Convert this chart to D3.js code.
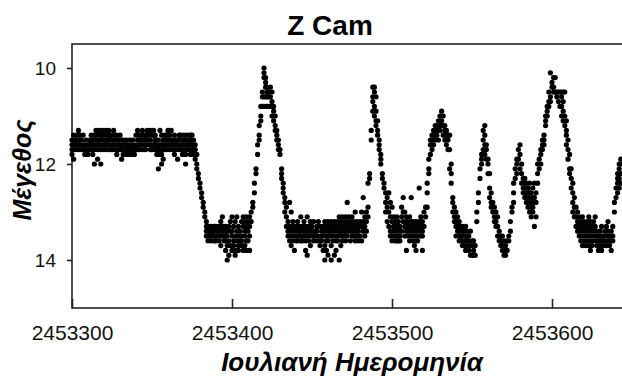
<!DOCTYPE html>
<html>
<head>
<meta charset="utf-8">
<script src="https://cdn.jsdelivr.net/npm/d3@7"></script>
<style>
  body { margin: 0; background: #fff; }
  svg { display: block; font-family: "Liberation Sans", Arial, sans-serif; }
</style>
</head>
<body>
<svg width="622" height="376"></svg>
<script>
// Z Cam light curve, visual estimates. Each row: [day after JD 2453300, mag, mag, ...]
const jdBase = 2453300;
const xTicks = [2453300, 2453400, 2453500, 2453600];
const yTicks = [10, 12, 14];

const standstill = [
  [0,11.5,11.6,11.7,11.8],[1,11.4,11.6,11.9],[2,11.5,11.6,11.7],[3,11.4,11.5,11.6],
  [4,11.3,11.6,11.7],[5,11.4,11.5,11.6],[6,11.5,11.7],[7,11.4,11.6,11.7],
  [8,11.6,11.7,11.8],[9,11.5,11.7],[10,11.6,11.8],[11,11.5,11.6,11.7],
  [12,11.4,11.5,11.6,11.7],[13,11.5,11.6,11.8],[14,11.4,11.5,11.7,12.0],[15,11.3,11.5,11.6],
  [16,11.4,11.6,11.7,11.9],[17,11.3,11.5,11.6],[18,11.4,11.5,11.7,12.0],[19,11.3,11.4,11.6],
  [20,11.4,11.5,11.6,11.7],[21,11.3,11.5,11.6],[22,11.4,11.6,11.7],[23,11.3,11.4,11.5,11.6],
  [24,11.4,11.5,11.7],[25,11.4,11.6,11.7],[26,11.3,11.5,11.6],[27,11.4,11.5,11.7],
  [28,11.4,11.6,11.8],[29,11.5,11.6,11.7],[30,11.4,11.6,11.7],[31,11.5,11.7,11.9],
  [32,11.5,11.6,11.8],[33,11.6,11.7],[34,11.5,11.6,11.7,11.8],[35,11.6,11.7,11.8],
  [36,11.5,11.7],[37,11.6,11.7,11.8],[38,11.5,11.6,11.7],[39,11.7,11.8],
  [40,11.4,11.6,11.7],[41,11.3,11.5,11.7],[42,11.4,11.6,11.7],[43,11.4,11.5,11.6],
  [44,11.3,11.5,11.7],[45,11.4,11.5,11.6],[46,11.4,11.6,11.7],[47,11.3,11.4,11.5],
  [48,11.4,11.5,11.6],[49,11.3,11.5,11.7],[50,11.4,11.6,11.7],[51,11.3,11.4,11.6],
  [52,11.4,11.5,11.6,11.7],[53,11.5,11.6,11.7,11.8],[54,11.5,11.7,11.8,12.1],[55,11.3,11.6,11.7],
  [56,11.4,11.6,11.8,12.0],[57,11.5,11.6,11.7,11.9],[58,11.4,11.5,11.7],[59,11.4,11.6,11.7],
  [60,11.3,11.5,11.6],[61,11.4,11.5,11.7],[62,11.3,11.5,11.6],[63,11.5,11.6,11.7],
  [64,11.4,11.6,11.8],[65,11.5,11.6,11.7],[66,11.5,11.6,11.9],[67,11.4,11.5,11.7],
  [68,11.4,11.6,11.7],[69,11.5,11.6,11.8],[70,11.4,11.5,11.7],[71,11.5,11.6,11.8,12.0],
  [72,11.4,11.6,11.7],[73,11.5,11.6,11.7],[74,11.4,11.5,11.6,11.8],[75,11.4,11.6,11.7],
  [76,11.5,11.6,11.7,11.8]
];

const decline1 = [
  [77,11.6,11.7,11.8,11.9],[78,11.8,12.0,12.1],[79,12.2,12.3],[80,12.4,12.5],
  [81,12.6,12.7],[82,12.8,12.9],[83,13.0,13.1],[84,13.2,13.3,13.4,13.5]
];

const minimum1 = [
  [85,13.3,13.4,13.5,13.6],[86,13.3,13.4,13.5],[87,13.3,13.4,13.5,13.6],[88,13.4,13.5],
  [89,13.3,13.4,13.6],[90,13.3,13.5,13.6],[91,13.4,13.5],[92,13.3,13.4,13.6],
  [93,13.2,13.5,13.7],[94,13.1,13.3,13.4,13.5],[95,13.3,13.5,13.6],[96,13.3,13.4,13.6,13.8],
  [97,13.4,13.5,13.7,14.0],[98,13.3,13.6,13.9],[99,13.2,13.4,13.7],[100,13.1,13.4,13.5,13.8],
  [101,13.3,13.6,13.7],[102,13.2,13.5,13.8,13.9],[103,13.1,13.4,13.6],[104,13.3,13.5,13.7,13.8],
  [105,13.4,13.6],[106,13.2,13.5,13.6,13.7],[107,13.1,13.3,13.8],[108,13.2,13.4,13.5,13.7],
  [109,13.1,13.3,13.6,13.8],[110,13.2,13.4,13.6],[111,13.1,13.3,13.5,13.8]
];

const outburst1 = [
  [112,13.0,13.2],[113,12.8,12.9],[114,12.4,12.6],[115,12.1,12.2],[116,11.6,11.8],
  [117,11.2,11.4,11.5],[118,10.8,11.0,11.1],[119,10.5,10.6,10.8],[120,10.0,10.1,10.2,10.6,10.8],
  [121,10.2,10.3,10.4,10.6,10.8],[122,10.4,10.5,10.6,10.8],[123,10.5,10.6,10.8],[124,10.4,10.6,10.8],
  [125,10.5,10.7,10.8,11.0],[126,10.8,10.9,11.1],[127,11.0,11.2,11.3],[128,11.3,11.4,11.5],
  [129,11.5,11.6,11.7],[130,11.7,11.8],[131,12.1,12.2,12.3],[132,12.4,12.5,12.6],
  [133,12.7,12.8,13.0],[134,12.9,13.1,13.3]
];

const minimum2 = [
  [135,13.2,13.4,13.5],[136,12.8,13.3,13.6],[137,13.0,13.4,13.5,13.7],[138,13.2,13.3,13.6],
  [139,13.4,13.5,13.8],[140,13.3,13.4,13.6],[141,13.2,13.3,13.5,13.6],[142,13.3,13.4,13.5],
  [143,13.1,13.4,13.6],[144,13.3,13.5,13.6],[145,13.2,13.4,13.5],[146,13.3,13.4,13.6,13.8],
  [147,13.1,13.4,13.5,13.9],[148,13.3,13.5,13.6],[149,13.2,13.4,13.7],[150,13.3,13.4,13.5],
  [151,13.2,13.5,13.6],[152,13.4,13.5],[153,13.3,13.4,13.6],[154,13.2,13.5],
  [155,13.3,13.6,13.7],[156,13.4,13.5,13.6],[157,13.3,13.5,13.8],[158,13.2,13.4,13.7,14.0],
  [159,13.3,13.5,13.6,13.8],[160,13.2,13.4,13.6,13.9],[161,13.3,13.4,13.5],[162,13.2,13.5,13.7,14.0],
  [163,13.3,13.4,13.6],[164,13.2,13.3,13.5,13.9],[165,13.3,13.4,13.6,13.8],[166,13.2,13.5,13.6],
  [167,13.1,13.3,13.4,14.0],[168,13.2,13.4,13.5,13.7],[169,13.1,13.3,13.6],[170,13.2,13.4,13.5],
  [171,13.1,13.3,13.4,13.6],[172,12.8,13.2,13.5],[173,13.1,13.3,13.4],[174,13.2,13.4,13.6],
  [175,13.1,13.3,13.5],[176,13.2,13.4,13.5],[177,13.0,13.3,13.6],[178,13.2,13.4,13.5],
  [179,13.3,13.4,13.6],[180,13.2,13.5],[181,13.0,13.3,13.6],[182,12.7,13.2,13.4],
  [183,13.1,13.3,13.5],[184,13.0,13.2,13.4]
];

const outburst2 = [
  [185,12.4,12.9,13.1],[186,12.2,12.3],[187,11.3,11.5],[188,10.4,10.6,10.7,10.9],
  [189,10.4,10.5,10.8,11.0],[190,10.6,10.9,11.1,11.2],[191,11.1,11.3,11.4],[192,11.5,11.6,11.7],
  [193,11.8,11.9,12.0],[194,12.2,12.3],[195,12.4,12.5],[196,12.6,12.8,13.0]
];

const minimum3 = [
  [197,12.7,12.9,13.2],[198,12.6,13.0,13.3],[199,12.8,13.1,13.4,13.5],[200,12.9,13.2,13.4,13.6],
  [201,13.1,13.3,13.5],[202,13.2,13.4,13.6],[203,13.1,13.3,13.5,13.6],[204,13.2,13.4,13.6],
  [205,13.3,13.5,13.6],[206,12.9,13.1,13.4],[207,12.7,13.0,13.2],[208,13.0,13.3,13.5],
  [209,13.1,13.2,13.4,13.8],[210,13.2,13.3,13.5],[211,13.1,13.4,13.6],[212,12.7,13.2,13.3,13.5],
  [213,13.2,13.4,13.6],[214,13.3,13.5,13.7],[215,13.2,13.4,13.6,13.8],[216,13.3,13.5,13.6],
  [217,12.5,13.2,13.4],[218,13.1,13.3,13.5],[219,13.2,13.4,13.5,13.8],[220,13.0,13.3],
  [221,12.9,13.1]
];

const outburst3 = [
  [222,12.4,12.6,12.9],[223,11.9,12.1,12.2],[224,11.5,11.6,11.8],[225,11.4,11.5,11.6,11.7],
  [226,11.3,11.4,11.6],[227,11.2,11.4,11.5],[228,11.2,11.3,11.4],[229,11.1,11.3,11.5],
  [230,11.0,11.2,11.3],[231,10.9,11.1,11.2],[232,11.0,11.2,11.4],[233,11.2,11.3,11.5],
  [234,11.3,11.4,11.6],[235,11.4,11.5,11.7],[236,11.4,11.7,12.1],[237,12.0,12.2,12.4]
];

const minimum4 = [
  [238,12.7,12.8,13.0],[239,12.9,13.1,13.2],[240,13.0,13.2,13.3,13.5],[241,13.1,13.3,13.4],
  [242,13.2,13.4,13.5,13.6],[243,13.3,13.5,13.6],[244,13.3,13.4,13.6,13.7],[245,13.4,13.5,13.7],
  [246,13.3,13.5,13.6,13.8],[247,13.4,13.6,13.7],[248,13.5,13.6,13.8],[249,13.4,13.7,13.9],
  [250,13.6,13.7,13.9],[251,13.6,13.8,13.9],[252,13.7,13.9]
];

const outburst4 = [
  [253,13.0,13.2],[254,12.6,12.8],[255,12.1,12.3],[256,11.8,11.9,12.0],[257,11.3,11.5,11.7],
  [258,11.2,11.4,11.6,11.8],[259,11.6,11.7,11.9],[260,11.9,12.0,12.2],[261,12.2,12.5,12.7],
  [262,12.6,12.8,12.9],[263,12.8,13.0],[264,12.9,13.1,13.2],[265,13.0,13.2,13.3],
  [266,13.1,13.3,13.5],[267,13.4,13.5,13.6],[268,13.5,13.6,13.7],[269,13.5,13.7,13.8],
  [270,13.6,13.8,13.9],[271,13.7,13.9],[272,13.6,13.8],[273,13.5,13.6],[274,13.2,13.4],
  [275,12.9,13.0]
];

const outburst5 = [
  [276,12.4,12.6,12.8],[277,12.1,12.3],[278,11.9,12.0,12.2],[279,11.7,11.9],[280,11.6,11.8,12.1],
  [281,12.0,12.2,12.4],[282,12.3,12.5,12.6],[283,12.3,12.4,12.6,12.7],[284,12.4,12.5,12.7,12.8],
  [285,12.5,12.6,12.8,12.9],[286,12.4,12.6,12.7,13.0],[287,12.6,12.8,12.9,13.1],
  [288,12.5,12.7,12.9,13.0],[289,12.4,12.7,12.8,13.3],[290,12.6,12.8,13.1],[291,12.0,12.2,12.4],
  [292,11.9,12.1]
];

const outburst6 = [
  [293,11.7,11.8,12.0],[294,11.5,11.6,11.7],[295,11.4,11.5,11.6],[296,11.0,11.1,11.2],
  [297,10.8,10.9,11.0],[298,10.5,10.7,10.8],[299,10.1,10.6,10.7],[300,10.3,10.4],
  [301,10.2,10.4,10.5],[302,10.2,10.5],[303,10.5,10.6],[304,10.5,10.7],[305,10.5,10.8],
  [306,10.5,10.6,10.8,11.0],[307,10.5,10.7,10.9,11.1],[308,10.5,11.0,11.2],
  [309,11.1,11.3,11.4,11.6],[310,11.5,11.7,11.9],[311,11.8,12.1,12.2],[312,12.1,12.3,12.5],
  [313,12.4,12.6,12.8,13.0]
];

const minimum5 = [
  [314,12.7,12.9,13.1],[315,12.9,13.1,13.3],[316,13.0,13.2,13.4],[317,13.1,13.3,13.5],
  [318,13.2,13.4,13.6],[319,13.1,13.3,13.5,13.7],[320,13.2,13.4,13.6],[321,13.3,13.5,13.7],
  [322,13.2,13.4,13.6],[323,13.1,13.3,13.5,13.7],[324,13.2,13.4,13.6,13.8],[325,13.3,13.5,13.7],
  [326,13.2,13.4,13.6],[327,13.1,13.3,13.5],[328,13.4,13.6,13.7],[329,13.5,13.6,13.8],
  [330,13.4,13.6,13.7],[331,13.3,13.5,13.6,13.8],[332,13.5,13.6,13.7],[333,13.4,13.6],
  [334,13.3,13.5,13.7],[335,13.2,13.4,13.6],[336,13.5,13.6,13.7],[337,13.4,13.6,13.8],
  [338,13.3,13.5,13.6]
];

const rise7 = [
  [339,12.8,13.0],[340,12.5,12.7],[341,12.2,12.3,12.4,12.6],[342,12.0,12.1,12.3,12.5],
  [343,11.9,12.0,12.2,12.4]
];

const nights = [].concat(standstill, decline1, minimum1, outburst1, minimum2, outburst2,
  minimum3, outburst3, minimum4, outburst4, outburst5, outburst6, minimum5, rise7);

const data = nights.flatMap(([d, ...ms]) => ms.map((m) => ({ jd: jdBase + d, mag: m })));

const margin = { top: 44, left: 72 };
const plotBottom = 308;

const x = d3.scaleLinear().domain([2453300, 2453660]).range([margin.left, 648]);
const y = d3.scaleLinear().domain([9.5, 15]).range([margin.top, plotBottom]);

const svg = d3.select("svg");

// frame (right side runs past the window)
svg.append("rect")
  .attr("x", x(2453300))
  .attr("y", y(9.5))
  .attr("width", x(2453660) - x(2453300))
  .attr("height", y(15) - y(9.5))
  .attr("fill", "none")
  .attr("stroke", "#222")
  .attr("stroke-width", 1.6);

// y axis, ticks pointing out
const yAxis = svg.append("g")
  .attr("transform", `translate(${margin.left},0)`)
  .call(d3.axisLeft(y).tickValues(yTicks).tickFormat(d3.format("d")).tickSize(5).tickPadding(11));
yAxis.select(".domain").remove();
yAxis.selectAll(".tick text").style("font-size", "19px");

// x axis, ticks pointing in
const xAxis = svg.append("g")
  .attr("transform", `translate(0,${plotBottom})`)
  .call(d3.axisBottom(x).tickValues(xTicks).tickFormat(d3.format("d")).tickSize(-9).tickPadding(17));
xAxis.select(".domain").remove();
xAxis.selectAll(".tick text").style("font-size", "21px");

svg.selectAll(".tick line").attr("stroke", "#222").attr("stroke-width", 1.6);
svg.selectAll(".tick text")
  .attr("fill", "#111")
  .style("font-family", "'Liberation Sans', Arial, sans-serif");

// observations
svg.append("g")
  .selectAll("circle")
  .data(data)
  .join("circle")
  .attr("cx", (d) => x(d.jd))
  .attr("cy", (d) => y(d.mag))
  .attr("r", 2.6)
  .attr("fill", "#000");

// titles
svg.append("text")
  .attr("x", 330)
  .attr("y", 35)
  .attr("text-anchor", "middle")
  .attr("font-size", "28px")
  .attr("font-weight", "bold")
  .text("Z Cam");

svg.append("text")
  .attr("x", 352)
  .attr("y", 371)
  .attr("text-anchor", "middle")
  .attr("font-size", "26px")
  .attr("font-weight", "bold")
  .attr("font-style", "italic")
  .text("Ιουλιανή Ημερομηνία");

svg.append("text")
  .attr("transform", "translate(31,170) rotate(-90)")
  .attr("text-anchor", "middle")
  .attr("font-size", "25px")
  .attr("font-weight", "bold")
  .attr("font-style", "italic")
  .text("Μέγεθος");
</script>
</body>
</html>
